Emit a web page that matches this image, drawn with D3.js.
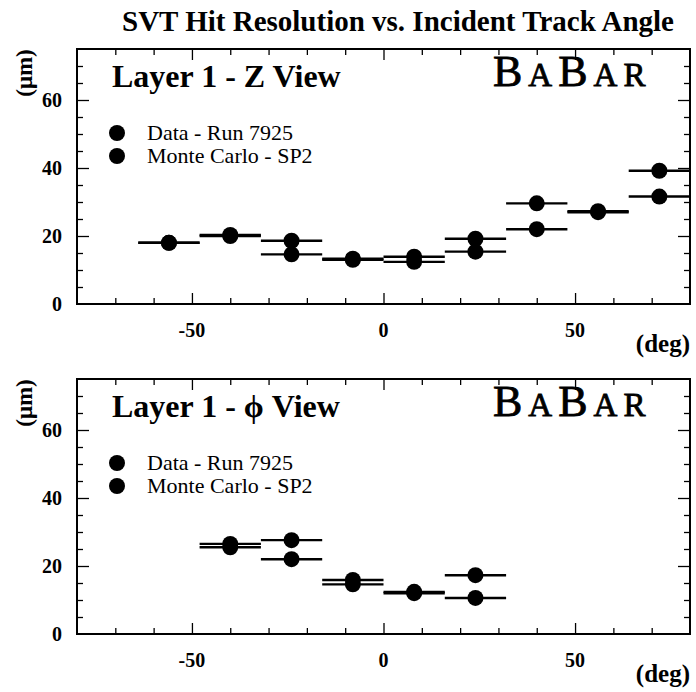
<!DOCTYPE html>
<html>
<head>
<meta charset="utf-8">
<script src="https://cdn.jsdelivr.net/npm/d3@7"></script>
<style>
  html, body { margin: 0; padding: 0; background: #fff; }
  svg text { font-family: "Liberation Serif", "Times New Roman", serif; fill: #000; }
</style>
</head>
<body>
<svg id="chart" width="696" height="692"></svg>
<script>
// ---- data ----
const binCentersZ = [-56, -40, -24, -8, 8, 24, 40, 56, 72];
const dataZ = [18.0, 20.3, 18.6, 13.3, 13.9, 19.2, 29.6, 27.0, 39.2];
const mcZ   = [18.0, 20.0, 14.6, 13.0, 12.4, 15.4, 22.0, 27.3, 31.6];

const binCentersPhi = [-40, -24, -8, 8, 24];
const dataPhi = [26.5, 27.6, 15.9, 12.4, 17.3];
const mcPhi   = [25.5, 22.0, 14.6, 12.0, 10.6];

const binHalfWidth = 8;
const xTickLabels = [-50, 0, 50];
const yTickLabels = [0, 20, 40, 60];
const legendLabels = ["Data - Run 7925", "Monte Carlo - SP2"];
const panelTitles = ["Layer 1 - Z View", "Layer 1 - \u03D5 View"];

// ---- layout ----
const svg = d3.select("#chart");
const left = 77, right = 690;
const panels = [
  { top: 49, bottom: 304, centers: binCentersZ, series: [dataZ, mcZ], title: panelTitles[0] },
  { top: 379, bottom: 634, centers: binCentersPhi, series: [dataPhi, mcPhi], title: panelTitles[1] }
];

svg.append("text")
  .attr("x", 398).attr("y", 31)
  .attr("text-anchor", "middle")
  .style("font-size", "29px").style("font-weight", "bold")
  .text("SVT Hit Resolution vs. Incident Track Angle");

panels.forEach((p, pi) => {
  const g = svg.append("g");
  const x = d3.scaleLinear().domain([-80, 80]).range([left, right]);
  const y = d3.scaleLinear().domain([0, 75]).range([p.bottom, p.top]);

  // frame
  g.append("rect")
    .attr("x", left).attr("y", p.top)
    .attr("width", right - left).attr("height", p.bottom - p.top)
    .attr("fill", "none").attr("stroke", "#000").attr("stroke-width", 2);

  const xMinor = d3.range(-70, 80, 10);
  const yMinor = d3.range(5, 75, 5);
  const isXMajor = v => v % 50 === 0;
  const isYMajor = v => v % 20 === 0;

  const mkX = (axisFn, ty, sign) => {
    const ax = g.append("g").attr("transform", `translate(0,${ty})`)
      .call(axisFn(x).tickValues(xMinor).tickSize(0).tickFormat(""));
    ax.select(".domain").remove();
    ax.selectAll(".tick line")
      .attr("y2", d => sign * (isXMajor(d) ? 11 : 6))
      .attr("stroke", "#000").attr("stroke-width", 1.3);
  };
  mkX(d3.axisBottom, p.bottom, -1);
  mkX(d3.axisTop, p.top, 1);

  const mkY = (axisFn, tx, sign) => {
    const ax = g.append("g").attr("transform", `translate(${tx},0)`)
      .call(axisFn(y).tickValues(yMinor).tickSize(0).tickFormat(""));
    ax.select(".domain").remove();
    ax.selectAll(".tick line")
      .attr("x2", d => sign * (isYMajor(d) ? 12 : 6))
      .attr("stroke", "#000").attr("stroke-width", 1.3);
  };
  mkY(d3.axisLeft, left, 1);
  mkY(d3.axisRight, right, -1);

  // tick labels
  g.selectAll("text.xl").data(xTickLabels).enter().append("text")
    .attr("x", d => x(d)).attr("y", p.bottom + 33)
    .attr("text-anchor", "middle")
    .style("font-size", "20px").style("font-weight", "bold")
    .text(d => d);
  g.selectAll("text.yl").data(yTickLabels).enter().append("text")
    .attr("x", 62).attr("y", d => y(d) + 7)
    .attr("text-anchor", "end")
    .style("font-size", "20px").style("font-weight", "bold")
    .text(d => d);

  // axis titles
  g.append("text")
    .attr("x", right).attr("y", p.bottom + 48)
    .attr("text-anchor", "end")
    .style("font-size", "25px").style("font-weight", "bold")
    .text("(deg)");
  g.append("text")
    .attr("transform", `translate(32,${p.top + 24}) rotate(-90)`)
    .attr("text-anchor", "middle")
    .style("font-size", "23px").style("font-weight", "bold")
    .text("(\u03BCm)");

  // panel title
  g.append("text")
    .attr("x", 112).attr("y", p.top + 38)
    .style("font-size", "32px").style("font-weight", "bold")
    .text(p.title);

  // BaBar logo
  const logo = g.append("text")
    .attr("x", 493).attr("y", p.top + 37)
    .style("letter-spacing", "6px")
    .attr("stroke", "#000").attr("stroke-width", 0.8);
  [["B", 44], ["A", 33], ["B", 44], ["A", 33], ["R", 33]].forEach(([c, s]) => {
    logo.append("tspan").style("font-size", s + "px").text(c);
  });

  // legend
  legendLabels.forEach((lab, i) => {
    const ly = p.top + 84 + i * 23;
    g.append("circle").attr("cx", 117).attr("cy", ly).attr("r", 8).attr("fill", "#000");
    g.append("text").attr("x", 147).attr("y", ly + 7)
      .style("font-size", "22px").text(lab);
  });

  // data
  p.series.forEach(vals => {
    const pts = p.centers.map((c, i) => ({ c, v: vals[i] }));
    g.selectAll(null).data(pts).enter().append("line")
      .attr("x1", d => x(d.c - binHalfWidth)).attr("x2", d => x(d.c + binHalfWidth))
      .attr("y1", d => y(d.v)).attr("y2", d => y(d.v))
      .attr("stroke", "#000").attr("stroke-width", 2.4);
    g.selectAll(null).data(pts).enter().append("circle")
      .attr("cx", d => x(d.c)).attr("cy", d => y(d.v)).attr("r", 8)
      .attr("fill", "#000");
  });
});
</script>
</body>
</html>
